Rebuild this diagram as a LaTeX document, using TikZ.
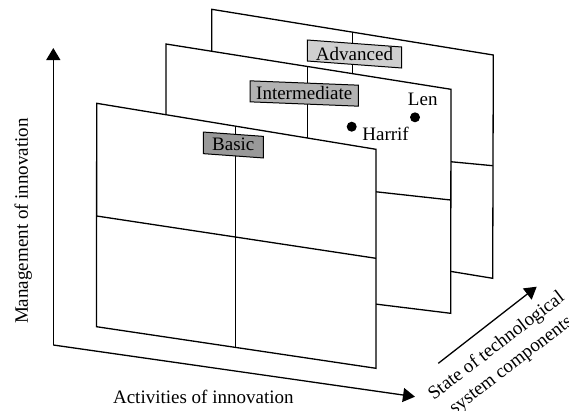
\documentclass[tikz,border=0pt]{standalone}
\usepackage{fontspec}
\setmainfont{Liberation Serif}
\usetikzlibrary{arrows.meta}
\begin{document}
\begin{tikzpicture}[x=1pt,y=-1pt, line width=1.3pt,
  panel/.style={draw=black, fill=white, line join=miter},
  lvlbox/.style={draw=black, line width=1pt, inner sep=0pt, minimum height=21pt},
  lbl/.style={font=\fontsize{19}{23}\selectfont, inner sep=0pt},
  axis/.style={-{Triangle[width=14pt,length=12pt]}, line join=miter},
  dot/.style={circle, fill=black, inner sep=0pt, minimum size=10pt}]
\useasboundingbox (0,0) rectangle (569,410);

% ---------- back panel (Advanced)
\coordinate (bTL) at (211.7,9.3);
\coordinate (bTR) at (493.3,55);
\coordinate (bBR) at (492.7,278.3);
\coordinate (bBL) at (211.7,232);
\coordinate (bMT) at (352.7,32.2);
\coordinate (bMB) at (352.7,255.3);
\coordinate (bML) at (211.7,139);
\coordinate (bMR) at (492.7,165.7);
\draw[panel] (bTL) -- (bTR) -- (bBR) -- (bBL) -- cycle;
\draw (bMT) -- (bMB);
\draw (bML) -- (bMR);

% ---------- middle panel (Intermediate)
\coordinate (mTL) at (166,44);
\coordinate (mTR) at (451,89.3);
\coordinate (mBR) at (450.7,313.3);
\coordinate (mBL) at (166,278.3);
\coordinate (mMT) at (307.3,66.5);
\coordinate (mMB) at (307.3,295.7);
\coordinate (mML) at (166,168.7);
\coordinate (mMR) at (450.7,200);
\draw[panel] (mTL) -- (mTR) -- (mBR) -- (mBL) -- cycle;
\draw (mMT) -- (mMB);
\draw (mML) -- (mMR);

% Advanced label
\node[lvlbox, fill=black!19, minimum width=94.4pt, yslant=-0.074] (advbox) at (354.5,54) {};
\node[lbl] (adv) at (354.5,53.5) {Advanced};

% dots
\node[dot] (harrifdot) at (351.7,126.7) {};
\node[dot] (lendot) at (415,117.3) {};
\node[lbl, anchor=base west] (harrif) at (361.7,140.7) {Harrif};
\node[lbl, anchor=base west] (len) at (407.3,105) {Len};

% ---------- front panel (Basic)
\coordinate (fTL) at (96.7,103.3);
\coordinate (fTR) at (376,149.3);
\coordinate (fBR) at (376,368.3);
\coordinate (fBL) at (96.5,326.7);
\coordinate (fMT) at (235.7,126.2);
\coordinate (fMB) at (235.7,347.4);
\coordinate (fML) at (96.7,216);
\coordinate (fMR) at (376,258.3);
\draw[panel] (fTL) -- (fTR) -- (fBR) -- (fBL) -- cycle;
\draw (fMT) -- (fMB);
\draw (fML) -- (fMR);

\node[lvlbox, fill=black!30, minimum width=108.3pt, yslant=-0.04] (intbox) at (304.2,93.5) {};
\node[lbl] (int) at (304.2,93) {Intermediate};

\node[lvlbox, fill=black!40, minimum width=60pt, minimum height=21.6pt, yslant=-0.072] (basbox) at (233.3,145) {};
\node[lbl] (bas) at (233.3,144.5) {Basic};

% ---------- axes
\coordinate (ytip) at (53.3,48);
\coordinate (orig) at (53.3,345);
\coordinate (xtip) at (415,396.7);
\draw[axis] (orig) -- (ytip);
\draw[axis] (orig) -- (xtip);
\coordinate (ztail) at (438.3,363.3);
\coordinate (ztip) at (536.7,286.7);
\draw[axis] (ztail) -- (ztip);

\node[lbl, rotate=90] (ylab) at (23.3,221) {Management of innovation};
\node[lbl] (xlab) at (203.3,397) {Activities of innovation};
\node[lbl, rotate=37.5, align=center, font=\fontsize{19}{24}\selectfont] (zlab) at (504,356) {State of technological\\system components};
\end{tikzpicture}
\end{document}
